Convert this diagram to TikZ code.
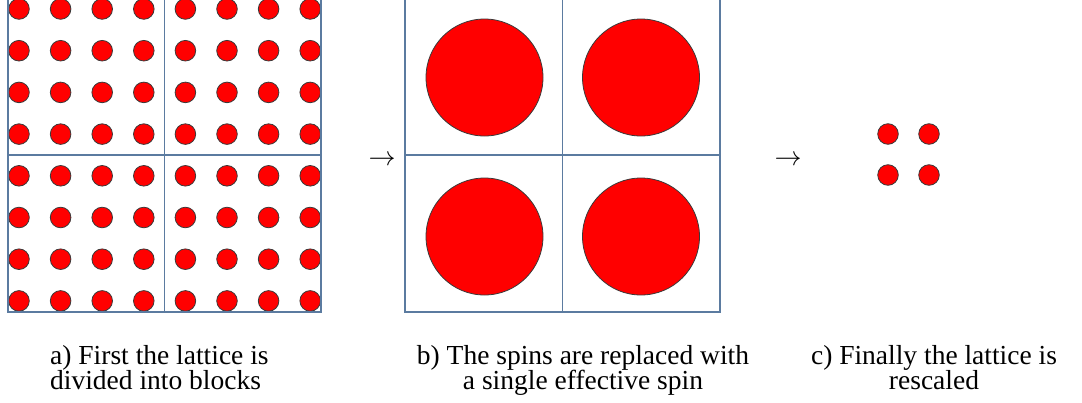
\documentclass[tikz,border=0pt]{standalone}
\usepackage{fontspec}
\setmainfont{Liberation Serif}
\usepackage{tikz}
\definecolor{gridline}{HTML}{5B7BA0}
\definecolor{spinred}{HTML}{FF0000}
\definecolor{spinedge}{HTML}{3A3A3A}
\newcommand{\capfont}{\fontsize{27.5}{25}\selectfont\lineskiplimit=-30pt\relax}
\tikzset{
  spin/.style={fill=spinred,draw=spinedge,line width=0.8pt},
  blockline/.style={draw=gridline,line width=1.8pt},
  caption/.style={inner sep=0pt,font=\capfont},
  flow/.style={inner sep=0pt}
}

\begin{document}
\begin{tikzpicture}[x=1pt,y=-1pt]
  \useasboundingbox (0,0) rectangle (1082,402);
  % a) the lattice, split into four blocks
  \foreach \i in {0,...,7}
    \foreach \j in {0,...,7}
      \draw[spin] (19+41.6*\i,9+41.7*\j) circle (10.3pt);
  \draw[blockline] (8,-2) rectangle (321,312);
  \draw[blockline] (164.5,-2) -- (164.5,312) (8,155) -- (321,155);
  % b) one effective spin per block
  \foreach \x in {484.5,641}
    \foreach \y in {77.5,236.5}
      \draw[spin] (\x,\y) circle (58.5pt);
  \draw[blockline] (405,-2) rectangle (720,312);
  \draw[blockline] (562.5,-2) -- (562.5,312) (405,155) -- (720,155);
  % c) rescaled lattice
  \foreach \x in {888,929}
    \foreach \y in {134,175}
      \draw[spin] (\x,\y) circle (10.3pt);
  \node[flow] (toblock) at (382,161) {\resizebox{27pt}{!}{$\to$}};
  \node[flow] (torescale) at (788,161) {\resizebox{27pt}{!}{$\to$}};
  \node[caption,anchor=north west,align=left] (capa) at (50,345)
    {a) First the lattice is\\divided into blocks};
  \node[caption,anchor=north,align=center] (capb) at (583,345)
    {b) The spins are replaced with\\a single effective spin};
  \node[caption,anchor=north,align=center] (capc) at (934,345)
    {c) Finally the lattice is\\rescaled};
\end{tikzpicture}
\end{document}
